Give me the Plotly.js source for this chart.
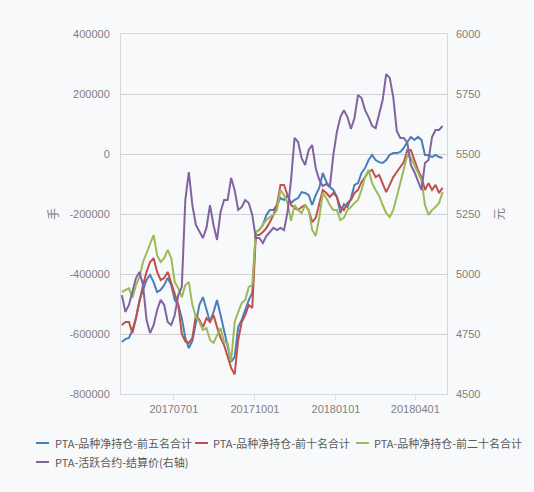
<!DOCTYPE html>
<html><head><meta charset="utf-8">
<script src="https://cdn.plot.ly/plotly-3.0.1.min.js"></script>
<style>html,body{margin:0;padding:0;background:#f8f9fb;} #chart{width:534px;height:492px;}</style>
</head><body><div id="chart"></div>
<script>
const dates = [
'2017-05-03','2017-05-07','2017-05-11','2017-05-15','2017-05-19','2017-05-23','2017-05-27','2017-05-31',
'2017-06-04','2017-06-08','2017-06-12','2017-06-16','2017-06-20','2017-06-24','2017-06-28',
'2017-07-02','2017-07-06','2017-07-10','2017-07-14','2017-07-18','2017-07-22','2017-07-26','2017-07-30',
'2017-08-03','2017-08-07','2017-08-11','2017-08-15','2017-08-19','2017-08-23','2017-08-27','2017-08-31',
'2017-09-04','2017-09-08','2017-09-12','2017-09-16','2017-09-20','2017-09-24','2017-09-28',
'2017-10-02','2017-10-06','2017-10-10','2017-10-14','2017-10-18','2017-10-22','2017-10-26','2017-10-30',
'2017-11-03','2017-11-07','2017-11-11','2017-11-15','2017-11-19','2017-11-23','2017-11-27',
'2017-12-01','2017-12-05','2017-12-09','2017-12-13','2017-12-17','2017-12-21','2017-12-25','2017-12-29',
'2018-01-02','2018-01-06','2018-01-10','2018-01-14','2018-01-18','2018-01-22','2018-01-26','2018-01-30',
'2018-02-03','2018-02-07','2018-02-11','2018-02-15','2018-02-19','2018-02-23','2018-02-27',
'2018-03-03','2018-03-07','2018-03-11','2018-03-15','2018-03-19','2018-03-23','2018-03-27','2018-03-31',
'2018-04-04','2018-04-08','2018-04-12','2018-04-16','2018-04-20','2018-04-24','2018-04-28','2018-05-02'];

const top5 = [
-627000,-617000,-613000,-587000,-547000,-487000,-453000,-420000,-403000,-427000,
-460000,-453000,-437000,-413000,-437000,-487000,-503000,-547000,-613000,-647000,
-623000,-560000,-503000,-477000,-520000,-560000,-527000,-487000,-537000,-593000,
-637000,-693000,-677000,-577000,-553000,-520000,-487000,-463000,-260000,-253000,
-237000,-203000,-187000,-187000,-170000,-147000,-153000,-137000,-163000,-153000,
-147000,-127000,-130000,-137000,-170000,-137000,-113000,-63000,-93000,-110000,
-120000,-143000,-197000,-167000,-177000,-147000,-103000,-97000,-63000,-47000,
-20000,-3000,-20000,-27000,-30000,-20000,-3000,3000,3000,7000,
20000,40000,57000,47000,57000,47000,-3000,-3000,-10000,-3000,
-10000,-13000];

const top10 = [
-570000,-560000,-560000,-597000,-547000,-487000,-437000,-393000,-360000,-347000,
-393000,-420000,-413000,-393000,-430000,-470000,-503000,-600000,-625000,-630000,
-613000,-537000,-553000,-577000,-547000,-560000,-537000,-577000,-613000,-637000,
-677000,-713000,-735000,-620000,-560000,-537000,-503000,-513000,-270000,-270000,
-260000,-247000,-227000,-203000,-170000,-103000,-103000,-137000,-170000,-180000,
-187000,-177000,-170000,-187000,-227000,-213000,-170000,-120000,-130000,-143000,
-130000,-143000,-177000,-187000,-163000,-153000,-130000,-120000,-93000,-77000,
-60000,-53000,-77000,-70000,-97000,-127000,-103000,-77000,-60000,-43000,
-27000,13000,13000,-20000,-53000,-77000,-120000,-97000,-120000,-103000,
-130000,-113000];

const top20 = [
-460000,-453000,-447000,-480000,-437000,-410000,-360000,-330000,-297000,-270000,
-337000,-360000,-347000,-320000,-347000,-427000,-447000,-477000,-437000,-427000,
-503000,-543000,-560000,-587000,-580000,-620000,-630000,-603000,-580000,-627000,
-630000,-690000,-560000,-527000,-497000,-487000,-443000,-437000,-260000,-253000,
-237000,-220000,-210000,-203000,-187000,-120000,-137000,-163000,-223000,-170000,
-187000,-197000,-170000,-187000,-253000,-273000,-213000,-130000,-147000,-170000,
-187000,-187000,-220000,-213000,-187000,-177000,-163000,-153000,-120000,-77000,
-53000,-97000,-120000,-140000,-170000,-197000,-210000,-187000,-143000,-97000,
-53000,-3000,-13000,-37000,-60000,-87000,-170000,-203000,-187000,-177000,
-163000,-127000];

const price = [
4912,4842,4871,4933,4983,5008,4954,4808,4754,4787,
4850,4892,4871,4800,4787,4829,4912,4946,5308,5425,
5287,5204,5175,5150,5192,5287,5204,5142,5258,5308,
5308,5400,5350,5267,5279,5308,5296,5246,5150,5150,
5129,5158,5175,5192,5183,5192,5183,5258,5392,5567,
5550,5483,5454,5517,5537,5442,5392,5367,5375,5362,
5496,5592,5654,5683,5654,5604,5650,5746,5733,5683,
5654,5617,5608,5667,5725,5833,5817,5737,5596,5567,
5567,5546,5454,5425,5383,5350,5462,5475,5571,5600,
5600,5617];

const seriesNames = ['PTA-品种净持仓-前五名合计','PTA-品种净持仓-前十名合计','PTA-品种净持仓-前二十名合计','PTA-活跃合约-结算价(右轴)'];
const seriesColors = ['#4a7ebb','#c0504d','#9bbb59','#8064a2'];

const xTickVals = ['2017-07-01','2017-10-01','2018-01-01','2018-04-01'];
const xTickText = ['20170701','20171001','20180101','20180401'];
const yTickVals = [-800000,-600000,-400000,-200000,0,200000,400000];
const yTickText = ['-800000','-600000','-400000','-200000','0','200000','400000'];
const y2TickVals = [4500,4750,5000,5250,5500,5750,6000];

const seriesY = [top5, top10, top20, price];
const traces = seriesY.map((ys, i) => ({
  type:'scatter', mode:'lines', x:dates, y:ys, name:seriesNames[i],
  yaxis: i === 3 ? 'y2' : 'y',
  line:{color:seriesColors[i], width:2}
}));

// legend drawn below the plot: [line start, line end, text start] in paper x, row in paper y
const legendX = [[-0.2607,-0.2209,-0.2055],[0.2270,0.2669,0.2791],[0.7209,0.7607,0.7730],[-0.2607,-0.2209,-0.2055]];
const legendY = [-0.1361,-0.1361,-0.1361,-0.1889];
const shapes = [], annotations = [];
seriesNames.forEach((n, i) => {
  shapes.push({type:'line', xref:'paper', yref:'paper', x0:legendX[i][0], x1:legendX[i][1], y0:legendY[i], y1:legendY[i],
    line:{color:seriesColors[i], width:2}});
  annotations.push({xref:'paper', yref:'paper', x:legendX[i][2], y:legendY[i], xanchor:'left', yanchor:'middle',
    text:n, showarrow:false, borderpad:0, font:{size:11, color:'#595959', family:'Noto Sans CJK SC, Liberation Sans, sans-serif'}});
});

const layout = {
  width:534, height:492,
  paper_bgcolor:'#f8f9fb', plot_bgcolor:'#f8f9fb',
  margin:{l:121, r:87, t:34, b:98},
  font:{family:'Liberation Sans, Noto Sans CJK SC, sans-serif', size:11, color:'#7f7f7f'},
  showlegend:false,
  shapes:shapes, annotations:annotations,
  xaxis:{type:'date', range:['2017-05-02','2018-05-07'], tickmode:'array', tickvals:xTickVals, ticktext:xTickText,
    ticks:'outside', ticklen:5, tickcolor:'#d6dce5', showgrid:false, showline:true, linecolor:'#d6dce5', mirror:true,
    zeroline:false, tickfont:{size:11, color:'#7f7f7f'}},
  yaxis:{range:[-800000,400000], tickmode:'array', tickvals:yTickVals, ticktext:yTickText,
    showgrid:true, gridcolor:'#d0d0d0', gridwidth:1, showline:true, linecolor:'#d6d6d6', mirror:true, zeroline:false,
    ticks:'', ticklabelstandoff:8, tickfont:{size:11, color:'#7f7f7f'},
    title:{text:'手', standoff:8, font:{size:12, color:'#7f7f7f'}}},
  yaxis2:{overlaying:'y', side:'right', range:[4500,6000], tickmode:'array', tickvals:y2TickVals,
    showgrid:false, zeroline:false, showline:false, ticks:'', ticklabelstandoff:8,
    tickfont:{size:11, color:'#7f7f7f'}, title:{text:'元', standoff:16, font:{size:12, color:'#7f7f7f'}}}
};

Plotly.newPlot('chart', traces, layout, {displayModeBar:false, staticPlot:true});
</script>
</body></html>
